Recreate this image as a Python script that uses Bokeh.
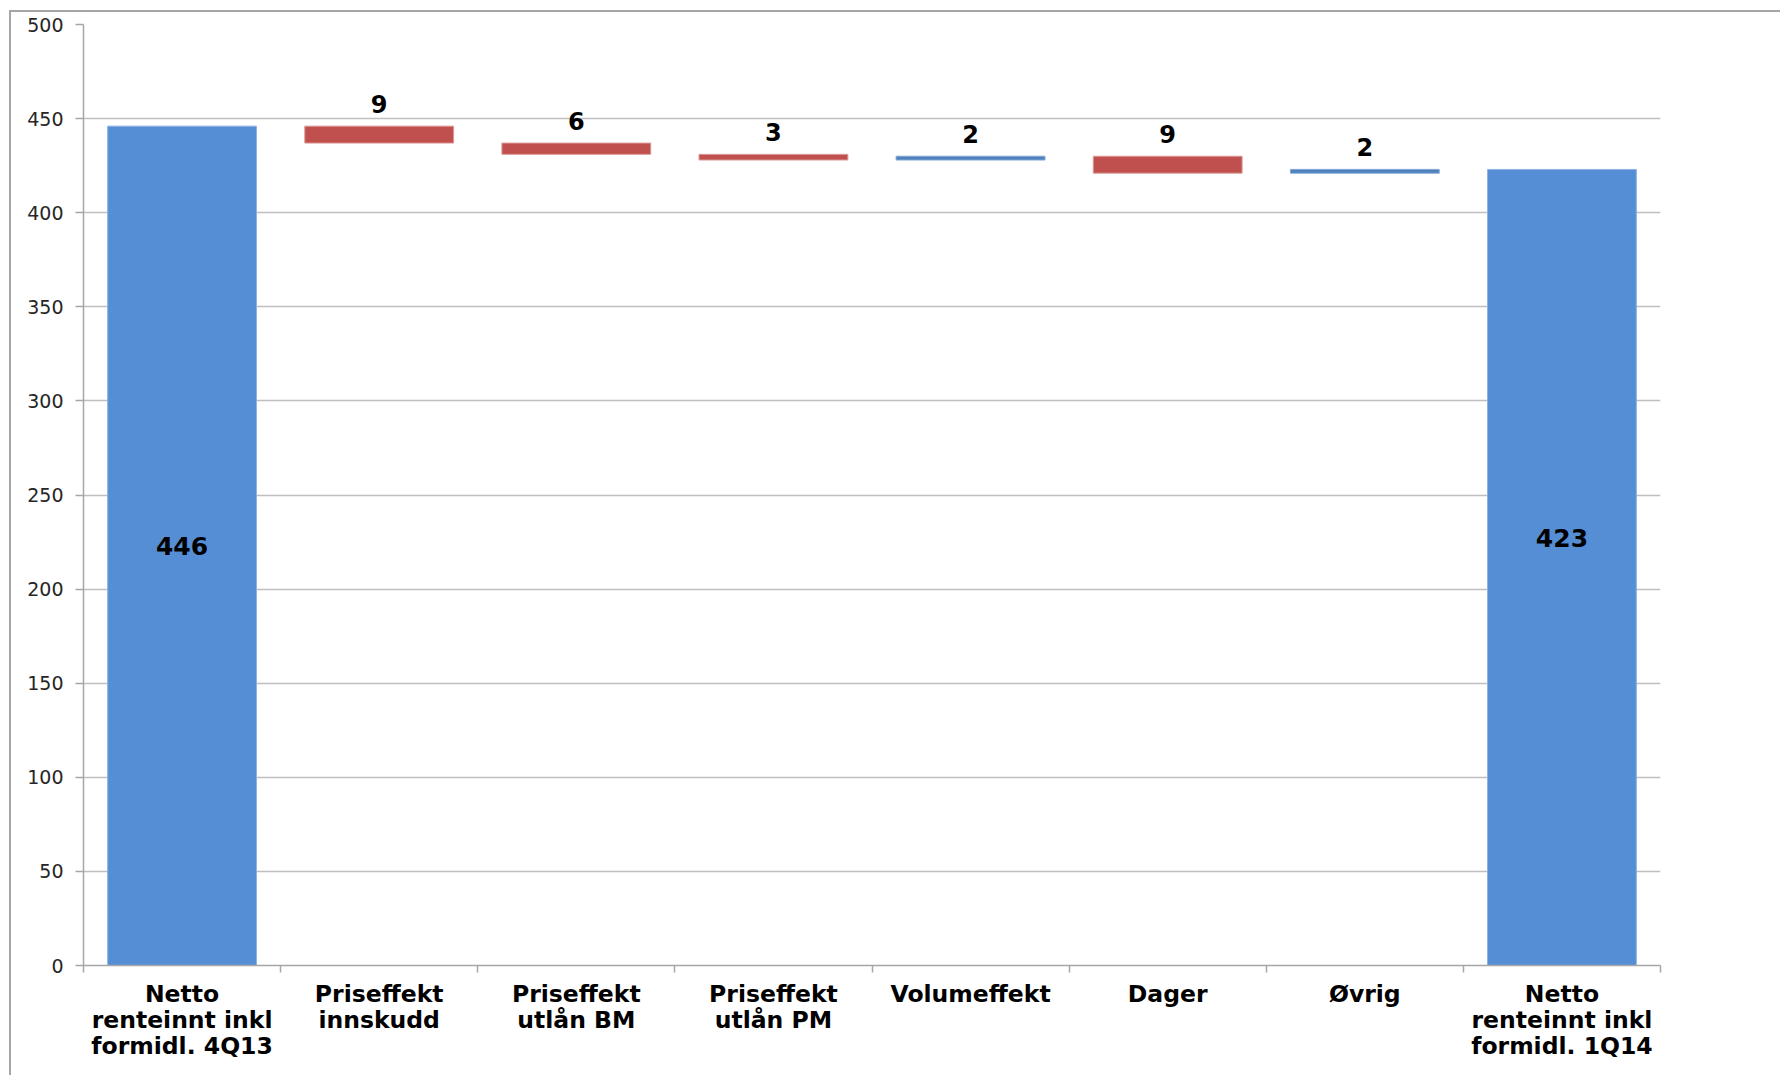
from bokeh.plotting import figure
from bokeh.models import Range1d, FixedTicker, ColumnDataSource
from bokeh.core.properties import value
from bokeh.embed import file_html
from bokeh.resources import INLINE

# ---- data ----
categories = [
    "Netto\nrenteinnt inkl\nformidl. 4Q13",
    "Priseffekt\ninnskudd",
    "Priseffekt\nutlån BM",
    "Priseffekt\nutlån PM",
    "Volumeffekt",
    "Dager",
    "Øvrig",
    "Netto\nrenteinnt inkl\nformidl. 1Q14",
]
start_value = 446
changes = [-9, -6, -3, 2, -9, 2]
end_value = 423
total_label_y = [223, 227]
y_ticks = [0, 50, 100, 150, 200, 250, 300, 350, 400, 450, 500]

TOTAL_COLOR = "#558ED5"
UP_COLOR = "#4F81BD"
DOWN_COLOR = "#C0504D"

n = len(categories)
centers = [i + 0.5 for i in range(n)]
boundaries = list(range(n + 1))

# waterfall geometry
bottoms, tops, colors, lines = [0], [start_value], [TOTAL_COLOR], ["#8db3e2"]
d_x, d_top, d_text = [], [], []
level = start_value
for i, c in enumerate(changes):
    new = level + c
    bottoms.append(min(level, new))
    tops.append(max(level, new))
    colors.append(DOWN_COLOR if c < 0 else UP_COLOR)
    lines.append("#dc9a98" if c < 0 else "#7fa6d6")
    d_x.append(centers[i + 1])
    d_top.append(max(level, new))
    d_text.append(str(abs(c)))
    level = new
bottoms.append(0)
tops.append(end_value)
colors.append(TOTAL_COLOR)
lines.append("#8db3e2")

bars = ColumnDataSource(dict(x=centers, bottom=bottoms, top=tops, color=colors, line=lines))
dlab = ColumnDataSource(dict(x=d_x, y=d_top, text=d_text))
tlab = ColumnDataSource(dict(x=[centers[0], centers[-1]], y=total_label_y,
                             text=[str(start_value), str(end_value)]))

p = figure(frame_width=1577, frame_height=941, output_backend="svg", toolbar_location=None,
           x_range=Range1d(0, n), y_range=Range1d(0, 500),
           min_border_left=72, min_border_right=120, min_border_top=12, min_border_bottom=110)
p.outline_line_color = None
p.background_fill_color = "white"
p.border_fill_color = "white"
p.styles = {"border-left": "2px solid #a6a6a6", "border-top": "2px solid #a6a6a6",
            "margin-left": "9px", "margin-top": "10px"}

p.vbar(x="x", bottom="bottom", top="top", width=0.755, fill_color="color",
       line_color="line", line_width=1, source=bars)

p.text(x="x", y="y", text="text", source=dlab, text_align="center",
       text_baseline="alphabetic", y_offset=-22, text_font=value("DejaVu Sans"),
       text_font_style="bold", text_font_size="24px", text_color="black")
p.text(x="x", y="y", text="text", source=tlab, text_align="center",
       text_baseline="middle", text_font=value("DejaVu Sans"),
       text_font_style="bold", text_font_size="25px", text_color="black")

# grid
p.xgrid.visible = False
p.ygrid.ticker = FixedTicker(ticks=y_ticks)
p.ygrid.grid_line_color = "#bfbfbf"
p.ygrid.grid_line_width = 1.5

# y axis
p.yaxis.ticker = FixedTicker(ticks=y_ticks)
p.yaxis.axis_line_color = "#a6a6a6"
p.yaxis.axis_line_width = 1.5
p.yaxis.major_tick_line_color = "#a6a6a6"
p.yaxis.major_tick_line_width = 1.5
p.yaxis.major_tick_out = 8
p.yaxis.major_tick_in = 0
p.yaxis.minor_tick_line_color = None
p.yaxis.major_label_standoff = 12
p.yaxis.major_label_text_font = "DejaVu Sans"
p.yaxis.major_label_text_font_size = "19px"
p.yaxis.major_label_text_color = "#262626"

# x axis
p.xaxis.ticker = FixedTicker(ticks=centers, minor_ticks=boundaries)
p.xaxis.major_label_overrides = {c: lab for c, lab in zip(centers, categories)}
p.xaxis.axis_line_color = "#a6a6a6"
p.xaxis.axis_line_width = 1.5
p.xaxis.major_tick_line_color = None
p.xaxis.major_tick_out = 0
p.xaxis.major_tick_in = 0
p.xaxis.minor_tick_line_color = "#a6a6a6"
p.xaxis.minor_tick_line_width = 1.5
p.xaxis.minor_tick_out = 7
p.xaxis.minor_tick_in = 0
p.xaxis.major_label_standoff = 7
p.xaxis.major_label_text_font = "DejaVu Sans"
p.xaxis.major_label_text_font_style = "bold"
p.xaxis.major_label_text_font_size = "23.5px"
p.xaxis.major_label_text_line_height = 0.93
p.xaxis.major_label_text_color = "black"

open("out.html", "w").write(file_html(p, INLINE))
